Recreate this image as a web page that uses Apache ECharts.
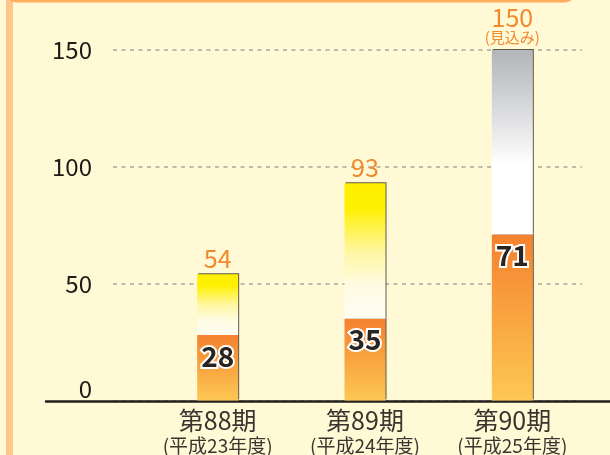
<!DOCTYPE html>
<html>
<head>
<meta charset="utf-8">
<script src="https://cdn.jsdelivr.net/npm/echarts@6/dist/echarts.min.js"></script>
<style>
html,body{margin:0;padding:0;background:#FFF9D5;}
#c{width:610px;height:455px;}
</style>
</head>
<body>
<div id="c"></div>
<script>
// ---- data ----
var categories = ['第88期', '第89期', '第90期'];
var subLabels = ['(平成23年度)', '(平成24年度)', '(平成25年度)'];
var firstHalf = [28, 35, 71];
var fullYear = [54, 93, 150];
var notes = ['', '', '(見込み)'];
var yTicks = [0, 50, 100, 150];

var FONT = 'Noto Sans CJK JP';
var TXT = '#231815';
var ORANGE_TXT = '#F08A2E';

var lowerGrad = new echarts.graphic.LinearGradient(0, 0, 0, 1, [
  {offset: 0, color: '#F4812F'},
  {offset: 1, color: '#FDC853'}
]);
var yellowGrad = new echarts.graphic.LinearGradient(0, 0, 0, 1, [
  {offset: 0, color: '#FFEE00'},
  {offset: 0.18, color: '#FFF000'},
  {offset: 0.5, color: '#FFF6A0'},
  {offset: 0.75, color: '#FFFBE2'},
  {offset: 1, color: '#FFFDF4'}
]);
var grayGrad = new echarts.graphic.LinearGradient(0, 0, 0, 1, [
  {offset: 0, color: '#B4B5B8'},
  {offset: 0.3, color: '#D6D7D9'},
  {offset: 0.62, color: '#FFFFFF'},
  {offset: 1, color: '#FFFFFF'}
]);

var edge = {shadowColor: '#5E5B4C', shadowBlur: 0, shadowOffsetX: 1, shadowOffsetY: -1};

var lowerData = firstHalf.map(function (v) {
  return {value: v, itemStyle: Object.assign({color: lowerGrad}, edge)};
});
var upperData = fullYear.map(function (v, i) {
  return {
    value: v - firstHalf[i],
    itemStyle: Object.assign({color: notes[i] ? grayGrad : yellowGrad}, edge),
    label: {
      formatter: notes[i] ? '{v|' + v + '}\n{s|' + notes[i] + '}' : '{v|' + v + '}'
    }
  };
});

var chart = echarts.init(document.getElementById('c'), null, {renderer: 'canvas'});
chart.setOption({
  backgroundColor: '#FFF9D5',
  animation: false,
  graphic: [
    {type: 'rect', z: -1, shape: {x: 6, y: 0, width: 7, height: 455}, style: {fill: '#FFC78A'}},
    {type: 'rect', z: -1, shape: {x: 6, y: -20, width: 569, height: 22.5, r: [0, 0, 10, 10]}, style: {fill: '#FDAE5C'}}
  ],
  grid: [
    {left: 113, right: 28, top: 50, bottom: 54},
    {left: 144, right: 24, top: 50, bottom: 54},
    {left: 46, right: 0, top: 50, bottom: 54}
  ],
  yAxis: [
    {
      gridIndex: 0, type: 'value', min: 0, max: 150, interval: 50,
      axisLine: {show: false}, axisTick: {show: false},
      splitLine: {show: true, lineStyle: {color: '#A8A79C', width: 1.5, type: [4, 4.5]}},
      axisLabel: {
        color: TXT, fontFamily: FONT, fontSize: 24, margin: 21,
        verticalAlignMinLabel: 'bottom',
        customValues: yTicks
      }
    },
    {gridIndex: 1, type: 'value', min: 0, max: 150, interval: 50, show: false},
    {gridIndex: 2, type: 'value', min: 0, max: 150, show: false}
  ],
  xAxis: [
    {gridIndex: 0, type: 'category', data: categories, show: false},
    {
      gridIndex: 1, type: 'category', data: categories,
      axisLine: {show: false}, axisTick: {show: false},
      axisLabel: {
        margin: 6, interval: 0,
        formatter: function (v, i) { return '{a|' + v + '}\n{b|' + subLabels[i] + '}'; },
        rich: {
          a: {fontFamily: FONT, fontSize: 25, color: '#3A3330', lineHeight: 28},
          b: {fontFamily: FONT, fontSize: 19, color: '#3A3330', lineHeight: 22}
        }
      }
    },
    {
      gridIndex: 2, type: 'value', min: 0, max: 1,
      axisLine: {show: true, lineStyle: {color: '#231F1C', width: 2.5}},
      axisTick: {show: false}, axisLabel: {show: false}, splitLine: {show: false}
    }
  ],
  series: [
    {
      type: 'bar', xAxisIndex: 1, yAxisIndex: 1, stack: 'a', barWidth: 41,
      data: lowerData,
      label: {
        show: true, position: 'insideTop', distance: 7,
        fontFamily: FONT, fontSize: 28, fontWeight: 'bold', color: '#2A2420',
        textBorderColor: '#FFFFFF', textBorderWidth: 4
      },
      z: 2
    },
    {
      type: 'bar', xAxisIndex: 1, yAxisIndex: 1, stack: 'a', barWidth: 41,
      data: upperData,
      label: {
        show: true, position: 'top', distance: 4.5,
        rich: {
          v: {fontFamily: FONT, fontSize: 25, color: ORANGE_TXT, lineHeight: 22},
          s: {fontFamily: FONT, fontSize: 15, color: ORANGE_TXT, lineHeight: 17}
        }
      },
      z: 3
    }
  ]
});
</script>
</body>
</html>
